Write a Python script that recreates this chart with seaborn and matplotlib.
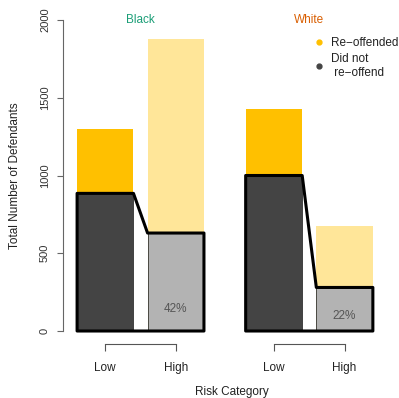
import matplotlib
matplotlib.use("Agg")
import matplotlib.pyplot as plt
import seaborn as sns
import pandas as pd
from matplotlib.lines import Line2D
from matplotlib.patches import Polygon

# ---------------- data ----------------
groups = ["Black", "White"]
categories = ["Low", "High"]
total_black = [1300, 1880]
not_reoffended_black = [885, 630]
total_white = [1430, 675]
not_reoffended_white = [1000, 280]
y_ticks = [0, 500, 1000, 1500, 2000]
legend_labels = ["Re\u2212offended", "Did not\n re\u2212offend"]

# ---------------- style ----------------
group_colors = {"Black": "#1B9E77", "White": "#D95F02"}
total_colors = {"Low": "#FFC000", "High": "#FFE699"}
base_colors = {"Low": "#444444", "High": "#B3B3B3"}

sns.set_theme(style="white")
plt.rcParams["font.family"] = ["Liberation Sans", "DejaVu Sans"]
FS = 8.5

df = pd.DataFrame({
    "group": [g for g in groups for _ in categories],
    "category": categories * len(groups),
    "total": total_black + total_white,
    "not_reoffended": not_reoffended_black + not_reoffended_white,
})

W, H = 399, 398
fig = plt.figure(figsize=(W / 100, H / 100), dpi=100)


def px_axes(left, right, top, bottom):
    return fig.add_axes([left / W, 1 - bottom / H, (right - left) / W, (bottom - top) / H])


axes = [px_axes(63, 211, 20, 331), px_axes(238.6, 387, 20, 331)]
xlims = [(-0.6, 1.5), (-0.5, 1.6)]
pct_y = [140, 95]

for i, (ax, g) in enumerate(zip(axes, groups)):
    sub = df[df["group"] == g]
    sns.barplot(data=sub, x="category", y="total", order=categories, hue="category",
                hue_order=categories, palette=total_colors, saturation=1, width=0.8,
                legend=False, linewidth=0, ax=ax, zorder=1)
    n0 = len(ax.patches)
    sns.barplot(data=sub, x="category", y="not_reoffended", order=categories, hue="category",
                hue_order=categories, palette=base_colors, saturation=1, width=0.8,
                legend=False, edgecolor="#333333", linewidth=0.6, ax=ax, zorder=2)
    base = ax.patches[n0:]
    lo, hi = base[0], base[1]
    pts = [
        (lo.get_x(), 0), (lo.get_x(), lo.get_height()),
        (lo.get_x() + lo.get_width(), lo.get_height()),
        (hi.get_x(), hi.get_height()),
        (hi.get_x() + hi.get_width(), hi.get_height()),
        (hi.get_x() + hi.get_width(), 0),
    ]
    ax.add_patch(Polygon(pts, closed=True, fill=False, edgecolor="black", linewidth=2.2,
                         joinstyle="round", clip_on=False, zorder=5))

    # false positive share of non-reoffenders labelled High
    n_lo = sub["not_reoffended"].iloc[0]
    n_hi = sub["not_reoffended"].iloc[1]
    pct = round(100 * n_hi / (n_lo + n_hi))
    ax.text(hi.get_x() + hi.get_width() / 2, pct_y[i], f"{pct}%", ha="center", va="center",
            color="#555555", fontsize=FS, zorder=6)

    ax.text(0.5, 2000, g, ha="center", va="center", color=group_colors[g], fontsize=FS,
            clip_on=False)

    ax.set_xlim(*xlims[i])
    ax.set_ylim(0, 2000)
    ax.set_xlabel("")
    ax.set_ylabel("")
    ax.set_facecolor("none")
    for s in ["top", "right"]:
        ax.spines[s].set_visible(False)
    ax.spines["bottom"].set_position(("outward", 9.0))
    ax.spines["bottom"].set_bounds(0, 1)
    ax.spines["bottom"].set_color("#555555")
    ax.spines["bottom"].set_linewidth(0.8)
    ax.set_xticks([0, 1])
    ax.set_xticklabels(categories)
    ax.tick_params(axis="x", bottom=True, direction="out", length=5, width=0.8,
                   color="#555555", labelsize=FS, labelcolor="#222222", pad=8)
    if i == 0:
        ax.spines["left"].set_color("#666666")
        ax.spines["left"].set_linewidth(0.8)
        ax.spines["left"].set_bounds(0, 2000)
        ax.set_yticks(y_ticks)
        ax.tick_params(axis="y", left=True, direction="out", length=4.3, width=0.8,
                       color="#666666", labelsize=FS - 0.5, labelcolor="#333333", pad=5)
        plt.setp(ax.get_yticklabels(), rotation=90, va="center")
    else:
        ax.spines["left"].set_visible(False)
        ax.set_yticks([])

handles = [
    Line2D([], [], marker="o", ls="", color=total_colors["Low"], markersize=3.5),
    Line2D([], [], marker="o", ls="", color=base_colors["Low"], markersize=3.5),
]
axes[1].legend(handles, legend_labels, loc="upper left",
               bbox_to_anchor=(316.5 / W, 1 - 37.5 / H), bbox_transform=fig.transFigure,
               frameon=False, fontsize=FS, handlelength=0.5, handletextpad=0.7,
               borderpad=0, borderaxespad=0, labelspacing=0.3, labelcolor="#222222")

fig.text(15 / W, 1 - 175.5 / H, "Total Number of Defendants", rotation=90, ha="center",
         va="center", fontsize=FS, color="#222222")
fig.text(232 / W, 3.5 / H, "Risk Category", ha="center", va="baseline", fontsize=FS,
         color="#222222")

fig.savefig("out.png", dpi=100)
